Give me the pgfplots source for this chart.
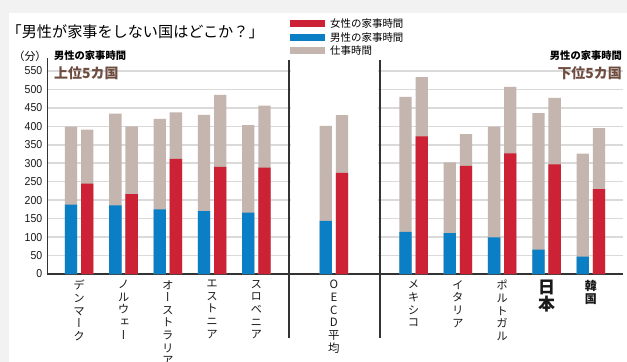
\documentclass[border=0pt]{standalone}
\usepackage{pgfplots}
\pgfplotsset{compat=1.18}
\usepackage{pgfplotstable}
\usepackage{graphicx}
\usepackage{fontspec}
\setmainfont{Noto Sans CJK JP}
\newfontfamily\vfont[RawFeature=+vert]{Noto Sans CJK JP}
\newfontfamily\numfont[FakeStretch=0.92]{Liberation Sans}
\definecolor{cred}{HTML}{CD2236}
\definecolor{cblue}{HTML}{0A7FC5}
\definecolor{cgray}{HTML}{C4B5AE}
\definecolor{cgrid}{HTML}{DADADA}
\definecolor{caxis}{HTML}{333333}
\definecolor{cbrown}{HTML}{6E4D40}
\definecolor{cbg}{HTML}{F2F2F2}
\newcommand\jb{\bfseries\fontsize{17}{17.5}\selectfont}
\newcommand\kb{\bfseries\fontsize{12}{13}\selectfont}
\pgfplotstableread{
x mt wt mh wh
0 399 391 188 245
1 434 400 186 216
2 420 438 175 312
3 431 485 170 290
4 403 456 166 288
5.75 401 430 144 274
7.55 480 533 114 373
8.55 302 379 111 293
9.55 399 507 99 327
10.55 436 477 66 297
11.55 326 395 47 230
}\data
\begin{document}
\begin{tikzpicture}
\useasboundingbox (0,0) rectangle (627bp,362bp);
\fill[cbg] (0,0) rectangle (627bp,362bp);
\fill[white] (9bp,0) rectangle (627bp,349bp);
\begin{axis}[
  at={(47.3bp,88bp)}, anchor=south west,
  scale only axis, width=575.4bp, height=216bp,
  xmin=-0.72, xmax=12.27, ymin=0, ymax=585,
  axis x line=bottom, axis y line=left,
  axis line style={-, line width=1.6bp, draw=caxis},
  ytick={0,50,...,550},
  ymajorgrids, grid style={cgrid, line width=1.5bp},
  major tick length=0pt,
  yticklabel style={font=\numfont\fontsize{11.5}{11.5}\selectfont, text=black!90, xshift=-1.5bp},
  /pgf/number format/assume math mode=true,
  xtick={0,1,2,3,4,5.75,7.55,8.55,9.55,10.55,11.55},
  xticklabels={{デ\\ン\\マ\\ー\\ク},{ノ\\ル\\ウ\\ェ\\ー},{オ\\ー\\ス\\ト\\ラ\\リ\\ア},{エ\\ス\\ト\\ニ\\ア},{ス\\ロ\\ベ\\ニ\\ア},{O\\E\\C\\D\\平\\均},{メ\\キ\\シ\\コ},{イ\\タ\\リ\\ア},{ポ\\ル\\ト\\ガ\\ル},{\jb 日\\\jb 本},{\kb 韓\\\kb 国}},
  xticklabel style={anchor=north, align=center, font=\vfont\fontsize{11.5}{12.7}\selectfont, text=black!90, inner sep=0pt, yshift=-6bp},
  clip=false,
]
\fill[white] (axis cs:4.78,3) rectangle (axis cs:6.75,586);
\draw[caxis, line width=1.4bp] (axis cs:4.74,580) -- (axis cs:4.74,-174);
\draw[caxis, line width=1.4bp] (axis cs:6.79,580) -- (axis cs:6.79,-174);
\addplot[ybar, bar width=0.278, bar shift=-0.183, fill=cgray, draw=none] table[x=x,y=mt]{\data};
\addplot[ybar, bar width=0.278, bar shift=0.183, fill=cgray, draw=none] table[x=x,y=wt]{\data};
\addplot[ybar, bar width=0.278, bar shift=-0.183, fill=cblue, draw=none] table[x=x,y=mh]{\data};
\addplot[ybar, bar width=0.278, bar shift=0.183, fill=cred, draw=none] table[x=x,y=wh]{\data};
\end{axis}
\node[anchor=west, inner sep=0] at (6.5bp,330bp) {\fontsize{15.2}{15.2}\selectfont 「男性が家事をしない国はどこか？」};
\node[anchor=center, inner sep=0] at (30bp,305.5bp) {\fontsize{11}{11}\selectfont （分）};
\node[anchor=west, inner sep=0] at (54bp,306.5bp) {\bfseries\fontsize{10.3}{10.3}\selectfont 男性の家事時間};
\node[anchor=west, inner sep=0, text=cbrown] at (54bp,289bp) {\bfseries\fontsize{14}{14}\selectfont 上位5カ国};
\node[anchor=east, inner sep=0] at (622bp,306.5bp) {\bfseries\fontsize{10.3}{10.3}\selectfont 男性の家事時間};
\node[anchor=east, inner sep=0, text=cbrown] at (622bp,289bp) {\bfseries\fontsize{14}{14}\selectfont 下位5カ国};
\fill[cred] (290bp,335bp) rectangle (325bp,342bp);
\fill[cblue] (290bp,321bp) rectangle (325bp,328bp);
\fill[cgray] (290bp,308bp) rectangle (325bp,315bp);
\node[anchor=west, inner sep=0] at (330bp,338.5bp) {\fontsize{10.5}{10.5}\selectfont 女性の家事時間};
\node[anchor=west, inner sep=0] at (330bp,324.5bp) {\fontsize{10.5}{10.5}\selectfont 男性の家事時間};
\node[anchor=west, inner sep=0] at (330bp,311.5bp) {\fontsize{10.5}{10.5}\selectfont 仕事時間};
\end{tikzpicture}
\end{document}
